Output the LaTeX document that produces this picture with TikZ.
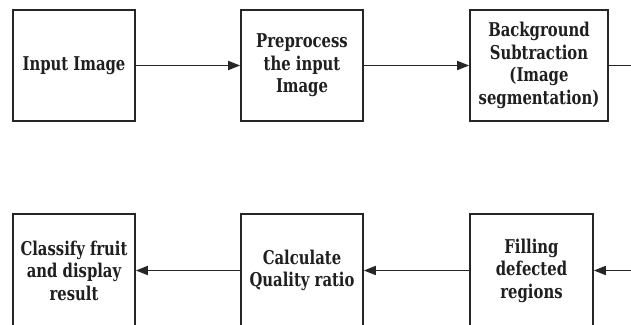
\documentclass[tikz,border=0pt]{standalone}
\usepackage{fontspec}
\setmainfont{DejaVu Serif}[FakeStretch=0.78]
\usetikzlibrary{arrows.meta}
\begin{document}
\begin{tikzpicture}[x=1pt,y=-1pt,
  box/.style={draw=black!85, line width=1.6pt, align=center, inner sep=0pt,
    font=\fontsize{19}{22.5}\selectfont\bfseries, text=black!88},
  conn/.style={draw=black!85, line width=1.6pt, -{Triangle[length=12pt,width=9pt]}},
  plain/.style={draw=black!85, line width=1.6pt}]
\useasboundingbox (0,0) rectangle (631,324);
\node[box, minimum width=122pt, minimum height=111pt] (input) at (74,65.5) {Input Image};
\node[box, minimum width=122pt, minimum height=111pt] (pre) at (302,65.5) {Preprocess\\the input\\Image};
\node[box, minimum width=138pt, minimum height=111pt] (bg) at (539,65.5) {Background\\Subtraction\\(Image\\segmentation)};
\node[box, minimum width=122pt, minimum height=113pt] (cls) at (74,270.5) {Classify fruit\\and display\\result};
\node[box, minimum width=122pt, minimum height=113pt] (calc) at (302,270.5) {Calculate\\Quality ratio};
\node[box, minimum width=123pt, minimum height=113pt] (fill) at (531.5,270.5) {Filling\\defected\\regions};
\coordinate (outr) at (640,65.5);
\coordinate (inr) at (640,270.5);
\draw[conn] (input) -- (pre);
\draw[conn] (pre) -- (bg);
\draw[plain] (bg.east) -- (outr);
\draw[conn] (inr) -- (fill.east);
\draw[conn] (fill) -- (calc);
\draw[conn] (calc) -- (cls);
\end{tikzpicture}
\end{document}
